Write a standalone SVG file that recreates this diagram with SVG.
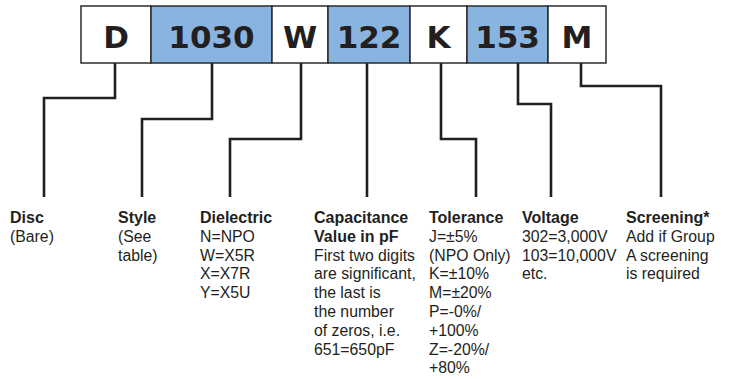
<svg xmlns="http://www.w3.org/2000/svg" width="729" height="379" viewBox="0 0 729 379">
<style>
.box{stroke:#2b2b2b;stroke-width:1.5}
.w{fill:#ffffff}
.b{fill:#89b4e0}
.code{font-family:"DejaVu Sans",Verdana,sans-serif;font-weight:bold;font-size:31px;fill:#231f20;text-anchor:middle}
.conn{fill:none;stroke:#231f20;stroke-width:2.6;stroke-linejoin:miter}
.h{font-family:"Liberation Sans",Arial,sans-serif;font-weight:bold;font-size:16px;fill:#231f20}
.t{font-family:"Liberation Sans",Arial,sans-serif;font-size:15.8px;fill:#231f20}
</style>
<rect width="729" height="379" fill="#ffffff"/>
<g id="connectors">
<path class="conn" d="M115 63V98H44V197"/>
<path class="conn" d="M212 63V119H142V197"/>
<path class="conn" d="M301 63V139H230V197"/>
<path class="conn" d="M367 63V197"/>
<path class="conn" d="M441 63V139H476V197"/>
<path class="conn" d="M518 63V104H551V197"/>
<path class="conn" d="M581 63V86H661V197"/>
</g>
<g id="box-D"><rect class="box w" x="81" y="6" width="70" height="57"/><text class="code" x="116" y="48">D</text></g>
<g id="box-1030"><rect class="box b" x="151" y="6" width="121" height="57"/><text class="code" x="211.5" y="48">1030</text></g>
<g id="box-W"><rect class="box w" x="272" y="6" width="56" height="57"/><text class="code" x="300" y="48">W</text></g>
<g id="box-122"><rect class="box b" x="328" y="6" width="82" height="57"/><text class="code" x="369" y="48">122</text></g>
<g id="box-K"><rect class="box w" x="410" y="6" width="57" height="57"/><text class="code" x="438.5" y="48">K</text></g>
<g id="box-153"><rect class="box b" x="467" y="6" width="81" height="57"/><text class="code" x="507.5" y="48">153</text></g>
<g id="box-M"><rect class="box w" x="548" y="6" width="58" height="57"/><text class="code" x="577" y="48">M</text></g>
<g id="label-disc">
<text class="h" x="10" y="223">Disc</text>
<text class="t" x="10" y="241.8">(Bare)</text>
</g>
<g id="label-style">
<text class="h" x="118" y="223">Style</text>
<text class="t" x="118" y="241.8">(See</text>
<text class="t" x="118" y="260.6">table)</text>
</g>
<g id="label-dielectric">
<text class="h" x="200" y="223">Dielectric</text>
<text class="t" x="200" y="241.8">N=NPO</text>
<text class="t" x="200" y="260.6">W=X5R</text>
<text class="t" x="200" y="279.4">X=X7R</text>
<text class="t" x="200" y="298.2">Y=X5U</text>
</g>
<g id="label-capacitance">
<text class="h" x="314" y="223">Capacitance</text>
<text class="h" x="314" y="241.8">Value in pF</text>
<text class="t" x="314" y="260.6">First two digits</text>
<text class="t" x="314" y="279.4">are significant,</text>
<text class="t" x="314" y="298.2">the last is</text>
<text class="t" x="314" y="317">the number</text>
<text class="t" x="314" y="335.8">of zeros, i.e.</text>
<text class="t" x="314" y="354.6">651=650pF</text>
</g>
<g id="label-tolerance">
<text class="h" x="429" y="223">Tolerance</text>
<text class="t" x="429" y="241.8">J=±5%</text>
<text class="t" x="429" y="260.6">(NPO Only)</text>
<text class="t" x="429" y="279.4">K=±10%</text>
<text class="t" x="429" y="298.2">M=±20%</text>
<text class="t" x="429" y="317">P=-0%/</text>
<text class="t" x="429" y="335.8">+100%</text>
<text class="t" x="429" y="354.6">Z=-20%/</text>
<text class="t" x="429" y="373.4">+80%</text>
</g>
<g id="label-voltage">
<text class="h" x="522" y="223">Voltage</text>
<text class="t" x="522" y="241.8">302=3,000V</text>
<text class="t" x="522" y="260.6">103=10,000V</text>
<text class="t" x="522" y="279.4">etc.</text>
</g>
<g id="label-screening">
<text class="h" x="626" y="223">Screening*</text>
<text class="t" x="626" y="241.8">Add if Group</text>
<text class="t" x="626" y="260.6">A screening</text>
<text class="t" x="626" y="279.4">is required</text>
</g>
</svg>
